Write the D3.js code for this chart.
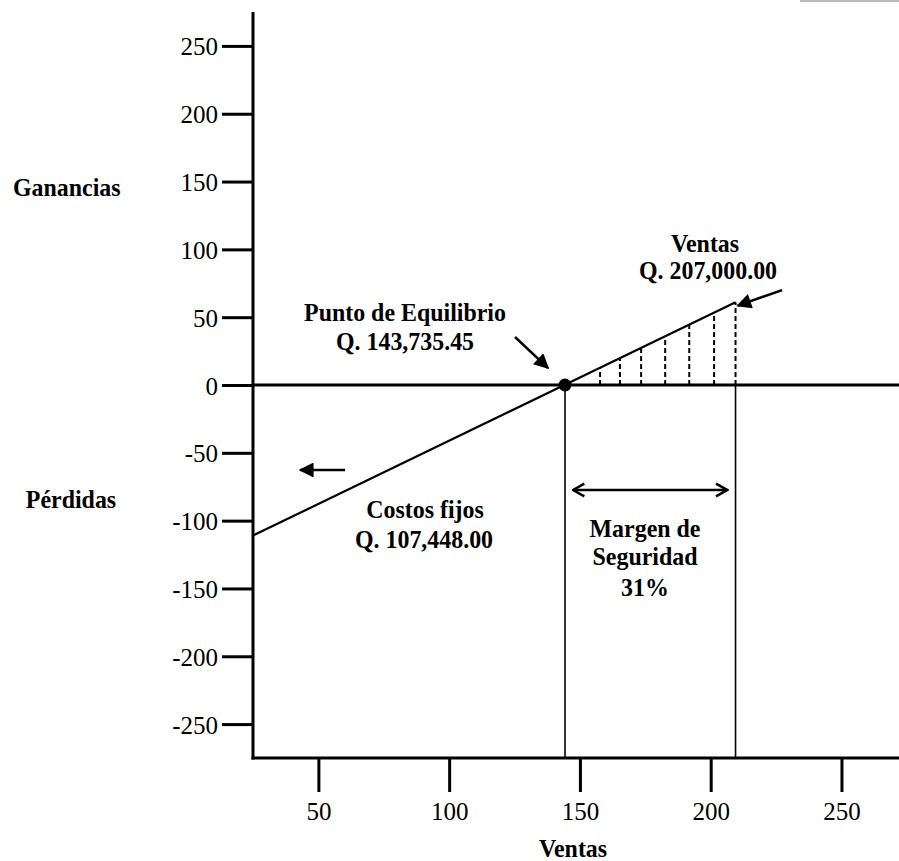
<!DOCTYPE html>
<html>
<head>
<meta charset="utf-8">
<script src="https://cdn.jsdelivr.net/npm/d3@7"></script>
<style>
  body { margin: 0; background: #fff; }
  svg text { font-family: 'Liberation Serif', 'Times New Roman', serif; fill: #000; }
  .lbl { font-weight: bold; font-size: 26px; }
  .tick text { font-size: 25px; }
</style>
</head>
<body>
<div id="graph"></div>
<script>
// ticks
var xTicks = [50, 100, 150, 200, 250];
var yTicks = [250, 200, 150, 100, 50, 0, -50, -100, -150, -200, -250];

// linea de ventas (inicio y fin)
var ventasX = [25, 209.5];
var ventasY = [-111, 61];

var puntoEquilibrio = 144.3;
var ventasActual = 209.5;

// lineas punteadas del margen
var hatchX = [157.7, 165.3, 173.4, 182.6, 191.8, 201.3, 209.5];

// flechas [x1, y1, x2, y2]
var arrowPunto = [125.2, 35.4, 137.8, 12.5];
var arrowVentas = [227.3, 70, 210.3, 58.5];
var arrowIzq = [60.2, -62.7, 43, -62.7];
var arrowMargen = [147.4, -77.4, 206.3, -77.4];

(function() {
  'use strict';
  var width = 899, height = 861;

  var x = d3.scaleLinear().domain([25, 272]).range([253, 899]);
  var y = d3.scaleLinear().domain([-275, 275]).range([758, 12]);
  var ventas = d3.scaleLinear().domain(ventasX).range(ventasY);

  var svg = d3.select('#graph').append('svg')
    .attr('width', width)
    .attr('height', height);

  var defs = svg.append('defs');
  defs.append('marker')
    .attr('id', 'tri')
    .attr('viewBox', '0 0 10 10')
    .attr('refX', 9).attr('refY', 5)
    .attr('markerUnits', 'userSpaceOnUse')
    .attr('markerWidth', 18).attr('markerHeight', 15)
    .attr('orient', 'auto')
    .append('path').attr('d', 'M0,0 L10,5 L0,10 Z').attr('fill', '#000');
  defs.append('marker')
    .attr('id', 'chev')
    .attr('viewBox', '0 0 10 10')
    .attr('refX', 9).attr('refY', 5)
    .attr('markerUnits', 'userSpaceOnUse')
    .attr('markerWidth', 14).attr('markerHeight', 16)
    .attr('orient', 'auto-start-reverse')
    .append('path').attr('d', 'M1,0.5 L9,5 L1,9.5')
    .attr('fill', 'none').attr('stroke', '#000').attr('stroke-width', 1.8);

  // artefacto gris del escaneo
  svg.append('line')
    .attr('x1', 800).attr('x2', 899).attr('y1', 1).attr('y2', 1)
    .attr('stroke', '#bbb').attr('stroke-width', 2);

  // eje Y
  var yAxis = svg.append('g')
    .attr('class', 'y axis')
    .attr('transform', 'translate(' + x(25) + ',0)')
    .call(d3.axisLeft(y).tickValues(yTicks).tickSize(31).tickPadding(4).tickFormat(function(d) {return String(d);}));
  yAxis.select('.domain').remove();
  yAxis.selectAll('.tick line').attr('stroke-width', 3);
  yAxis.selectAll('.tick text').attr('dy', '0.36em');
  svg.append('line')
    .attr('x1', x(25)).attr('x2', x(25))
    .attr('y1', y(275)).attr('y2', y(-275) + 1.5)
    .attr('stroke', '#000').attr('stroke-width', 3);

  // eje X
  var xAxis = svg.append('g')
    .attr('class', 'x axis')
    .attr('transform', 'translate(0,' + y(-275) + ')')
    .call(d3.axisBottom(x).tickValues(xTicks).tickSize(34).tickPadding(10).tickFormat(function(d) {return String(d);}));
  xAxis.select('.domain').remove();
  xAxis.selectAll('.tick line').attr('stroke-width', 3);
  svg.append('line')
    .attr('x1', x(25) - 1.5).attr('x2', x(272))
    .attr('y1', y(-275)).attr('y2', y(-275))
    .attr('stroke', '#000').attr('stroke-width', 3);

  // linea cero
  svg.append('line')
    .attr('x1', x(25)).attr('x2', x(272))
    .attr('y1', y(0)).attr('y2', y(0))
    .attr('stroke', '#000').attr('stroke-width', 3);

  // verticales solidas
  svg.selectAll('line.vert')
    .data([puntoEquilibrio, ventasActual])
    .enter().append('line')
    .attr('class', 'vert')
    .attr('x1', function(d) {return x(d);})
    .attr('x2', function(d) {return x(d);})
    .attr('y1', y(0))
    .attr('y2', y(-275))
    .attr('stroke', '#000')
    .attr('stroke-width', 1.6);

  // punteadas
  svg.selectAll('line.hatch')
    .data(hatchX)
    .enter().append('line')
    .attr('class', 'hatch')
    .attr('x1', function(d) {return x(d);})
    .attr('x2', function(d) {return x(d);})
    .attr('y1', y(0))
    .attr('y2', function(d) {return y(ventas(d));})
    .attr('stroke', '#000')
    .attr('stroke-width', 2)
    .attr('stroke-dasharray', '5,3');

  // linea de ventas
  svg.append('line')
    .attr('x1', x(ventasX[0])).attr('y1', y(ventasY[0]))
    .attr('x2', x(ventasX[1])).attr('y2', y(ventasY[1]))
    .attr('stroke', '#000')
    .attr('stroke-width', 2.2);

  svg.append('circle')
    .attr('cx', x(puntoEquilibrio))
    .attr('cy', y(0))
    .attr('r', 6.5)
    .attr('fill', '#000');

  // flechas
  function arrow(a, mark, both) {
    var l = svg.append('line')
      .attr('x1', x(a[0])).attr('y1', y(a[1]))
      .attr('x2', x(a[2])).attr('y2', y(a[3]))
      .attr('stroke', '#000')
      .attr('stroke-width', 2.5)
      .attr('marker-end', 'url(#' + mark + ')');
    if (both) l.attr('marker-start', 'url(#' + mark + ')');
  }
  arrow(arrowPunto, 'tri');
  arrow(arrowVentas, 'tri');
  arrow(arrowIzq, 'tri');
  arrow(arrowMargen, 'chev', true);

  // textos (un poco angostos como en el original)
  function label(tx, ty, s, anchor) {
    svg.append('text')
      .attr('class', 'lbl')
      .attr('transform', 'translate(' + tx + ',' + ty + ') scale(0.92,1)')
      .attr('text-anchor', anchor || 'middle')
      .text(s);
  }
  label(13, 196, 'Ganancias', 'start');
  label(71, 508, 'Pérdidas');
  label(573, 857, 'Ventas');
  label(405, 321, 'Punto de Equilibrio');
  label(405, 350, 'Q. 143,735.45');
  label(705, 252, 'Ventas');
  label(708, 279, 'Q. 207,000.00');
  label(425, 518, 'Costos fijos');
  label(424, 548, 'Q. 107,448.00');
  label(645, 537, 'Margen de');
  label(645, 565, 'Seguridad');
  label(645, 596, '31%');
})();
</script>
</body>
</html>
